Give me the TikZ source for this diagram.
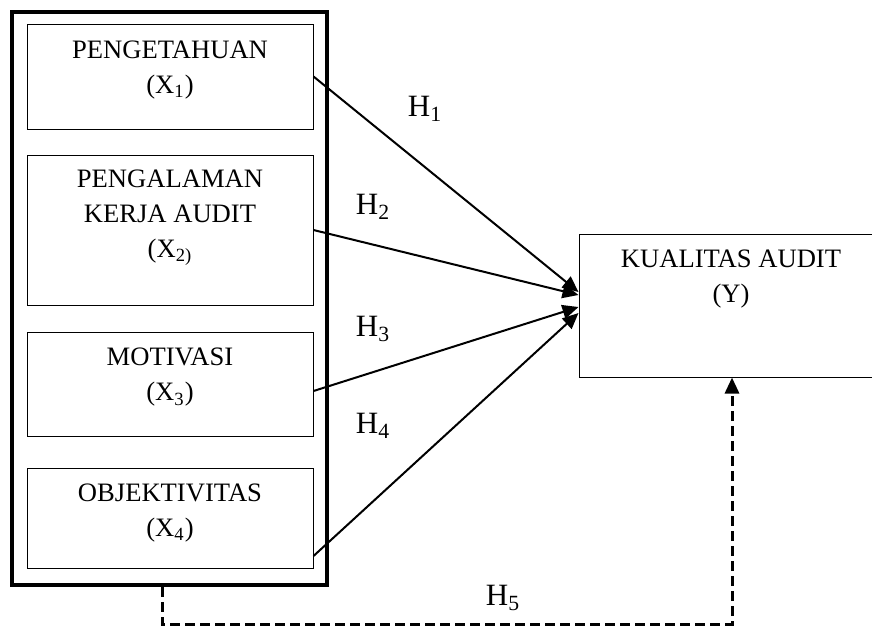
\documentclass[tikz,border=0pt]{standalone}
\usepackage{fontspec}
\setmainfont{Liberation Serif}
\usetikzlibrary{arrows.meta}

\begin{document}
\begin{tikzpicture}[x=0.5pt, y=-0.5pt, >={Triangle[length=8pt,width=7pt]},
		varbox/.style={draw, line width=0.5pt, minimum width=143pt, inner sep=0pt},
		vartext/.style={align=center, font=\fontsize{13.3}{17.5}\selectfont},
		hlabel/.style={font=\fontsize{15.5}{18}\selectfont},
		arr/.style={->, line width=1pt},
		dasharr/.style={->, line width=1.5pt, dash pattern=on 5pt off 2.5pt}]
	% batas gambar
	\useasboundingbox (0,0) rectangle (872,628);
	
	% kotak luar (variabel independen)
	\node[draw, line width=2pt, minimum width=157.5pt, minimum height=286.5pt, inner sep=0pt] (indep) at (169.5,298.5) {};
	
	% kotak variabel X
	\node[varbox, minimum height=52.5pt] (b1) at (170,76.5) {};
	\node[varbox, minimum height=75pt] (b2) at (170,230) {};
	\node[varbox, minimum height=52pt] (b3) at (170,384) {};
	\node[varbox, minimum height=50pt] (b4) at (170,518) {};
	\node[vartext] (t1) at (170,70) {PENGETAHUAN\\(X\textsubscript{1})};
	\node[vartext] (t2) at (170,218) {PENGALAMAN\\KERJA AUDIT\\(X\textsubscript{2)}};
	\node[vartext] (t3) at (170,377.5) {MOTIVASI\\(X\textsubscript{3})};
	\node[vartext] (t4) at (170,513) {OBJEKTIVITAS\\(X\textsubscript{4})};
	
	% kotak Y (sisi kanan terpotong)
	\node[draw, line width=0.5pt, minimum width=151pt, minimum height=71.5pt, inner sep=0pt] (ky) at (730,305.5) {};
	\node[vartext] (ty) at (731,279) {KUALITAS AUDIT\\(Y)};
	
	% panah hipotesis
	\draw[arr] (b1.east) -- ([yshift=6.75pt]ky.west);
	\draw[arr] (b2.east) -- ([yshift=5.25pt]ky.west);
	\draw[arr] ([yshift=-3.5pt]b3.east) -- ([yshift=-0.75pt]ky.west);
	\draw[arr] ([yshift=-19pt]b4.east) -- ([yshift=-3.75pt]ky.west);
	\draw[dasharr] ([xshift=-3.75pt]indep.south) -- ++(0,37) -| ([xshift=1pt]ky.south);
	
	% label H
	\node[hlabel] (h1) at (425,109) {H\textsubscript{1}};
	\node[hlabel] (h2) at (373,207) {H\textsubscript{2}};
	\node[hlabel] (h3) at (373,329) {H\textsubscript{3}};
	\node[hlabel] (h4) at (373,426) {H\textsubscript{4}};
	\node[hlabel] (h5) at (503,598) {H\textsubscript{5}};
\end{tikzpicture}
\end{document}
